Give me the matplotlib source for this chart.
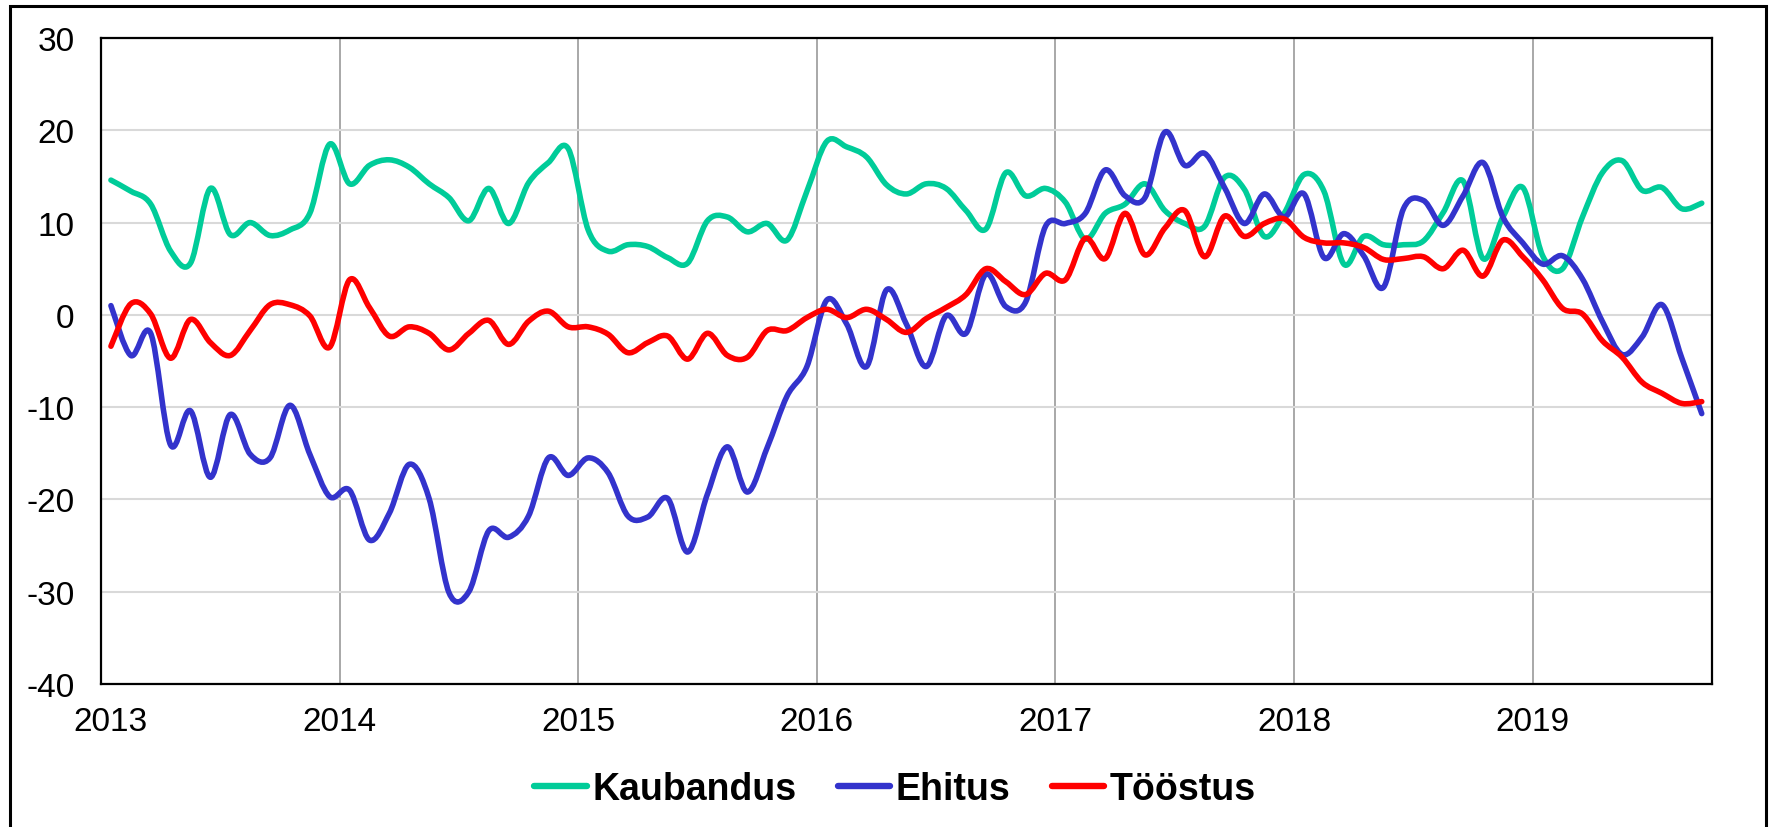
import numpy as np
import pandas as pd
import matplotlib
matplotlib.use("Agg")
import matplotlib.pyplot as plt
from matplotlib.path import Path
from matplotlib.patches import PathPatch, Rectangle
from matplotlib.lines import Line2D

plt.rcParams['font.family'] = ['Liberation Sans', 'DejaVu Sans']
plt.rcParams['axes.unicode_minus'] = False

# Monthly survey balances, Jan 2013 .. Sep 2019
months = pd.date_range('2013-01-01', '2019-09-01', freq='MS')
years = ['2013', '2014', '2015', '2016', '2017', '2018', '2019']

kaubandus = [14.6, 13.4, 12.0, 6.9, 5.6, 13.7, 8.7, 10.0, 8.6, 9.2, 11.0, 18.5,
             14.2, 16.2, 16.8, 16.0, 14.2, 12.7, 10.2, 13.7, 9.9, 14.3, 16.5, 18.0,
             9.2, 6.9, 7.6, 7.4, 6.2, 5.6, 10.2, 10.6, 9.0, 9.9, 8.1, 13.4,
             18.8, 18.2, 17.1, 14.1, 13.1, 14.2, 13.7, 11.3, 9.3, 15.4, 12.9, 13.7,
             12.2, 8.2, 11.0, 12.0, 14.2, 11.3, 9.9, 9.6, 14.9, 13.6, 8.5, 11.0,
             15.2, 13.4, 5.5, 8.5, 7.6, 7.6, 8.0, 11.1, 14.5, 6.1, 10.6, 13.8,
             6.4, 5.0, 10.6, 15.4, 16.7, 13.5, 13.8, 11.5, 12.1]

ehitus = [1.0, -4.4, -2.0, -14.1, -10.4, -17.6, -10.8, -15.1, -15.5, -9.8, -15.1, -19.7,
          -19.0, -24.4, -21.5, -16.2, -19.9, -30.1, -30.0, -23.4, -24.1, -21.8, -15.5, -17.4,
          -15.5, -17.1, -21.8, -21.9, -19.9, -25.7, -19.4, -14.3, -19.2, -14.4, -8.8, -5.6,
          1.6, -1.0, -5.6, 2.7, -1.0, -5.6, -0.1, -2.0, 4.4, 0.9, 1.4, 9.6,
          9.9, 11.0, 15.7, 12.9, 12.7, 19.8, 16.2, 17.5, 13.8, 9.9, 13.1, 10.6,
          13.1, 6.2, 8.8, 6.4, 3.0, 11.5, 12.4, 9.7, 12.9, 16.5, 10.6, 7.8,
          5.5, 6.4, 3.9, -0.7, -4.3, -2.4, 1.1, -4.7, -10.7]

toostus = [-3.4, 1.2, 0.1, -4.7, -0.5, -3.0, -4.4, -1.7, 1.1, 1.1, -0.1, -3.5,
           3.8, 0.8, -2.3, -1.3, -2.0, -3.8, -2.0, -0.6, -3.2, -0.7, 0.4, -1.3,
           -1.3, -2.1, -4.1, -3.0, -2.3, -4.8, -2.0, -4.4, -4.6, -1.7, -1.7, -0.3,
           0.6, -0.3, 0.6, -0.5, -1.9, -0.4, 0.8, 2.2, 5.0, 3.6, 2.2, 4.5,
           3.8, 8.3, 6.1, 11.0, 6.5, 9.4, 11.3, 6.3, 10.7, 8.5, 9.9, 10.4,
           8.4, 7.8, 7.8, 7.3, 6.0, 6.1, 6.3, 5.0, 7.0, 4.2, 8.1, 6.3,
           3.8, 0.7, 0.1, -2.8, -4.6, -7.3, -8.5, -9.6, -9.4]

series = [('Kaubandus', kaubandus, '#00cc99'),
          ('Ehitus', ehitus, '#3333cc'),
          ('Tööstus', toostus, '#ff0000')]

# x position = months since Jan 2013, points sit mid-month
x = np.array([(d.year - 2013) * 12 + d.month - 1 + 0.5 for d in months])


def smooth_path(xs, ys):
    # Bezier segments like a spreadsheet "smoothed line"
    xs = np.asarray(xs, float)
    ys = np.asarray(ys, float)
    n = len(xs)
    verts = [(xs[0], ys[0])]
    codes = [Path.MOVETO]
    for i in range(n - 1):
        a = i - 1 if i > 0 else i
        b = i + 2 if i + 2 < n else i + 1
        c1 = (xs[i] + (xs[i + 1] - xs[a]) / 6, ys[i] + (ys[i + 1] - ys[a]) / 6)
        c2 = (xs[i + 1] - (xs[b] - xs[i]) / 6, ys[i + 1] - (ys[b] - ys[i]) / 6)
        verts += [c1, c2, (xs[i + 1], ys[i + 1])]
        codes += [Path.CURVE4] * 3
    return Path(verts, codes)


fig = plt.figure(figsize=(17.7, 8.28), dpi=100)
ax = fig.add_axes([0.05706, 0.17271, 0.91, 0.78019])

handles = []
for name, vals, col in series:
    ax.add_patch(PathPatch(smooth_path(x, vals), fill=False, edgecolor=col,
                           lw=4.0, capstyle='round', joinstyle='round', zorder=3))
    handles.append(Line2D([], [], color=col, lw=4.6, solid_capstyle='round'))

ax.set_xlim(0, 81)
ax.set_ylim(-40, 30)
ax.set_yticks(range(-40, 31, 10))
# year labels (first one nudged in, as in the original), gridlines on minor ticks
ax.xaxis.remove_overlapping_locs = False
ax.set_xticks([0.45] + list(range(12, 73, 12)))
ax.set_xticklabels(years)
ax.set_xticks(range(12, 73, 12), minor=True)
ax.tick_params(axis='both', which='both', length=0, labelsize=24)
ax.tick_params(axis='x', pad=16)
ax.tick_params(axis='y', pad=19)

ax.set_axisbelow(True)
ax.yaxis.grid(True, color='#d9d9d9', lw=1.5)
ax.xaxis.grid(True, which='minor', color='#999999', lw=1.2)
ax.xaxis.grid(False, which='major')
for sp in ax.spines.values():
    sp.set_color('black')
    sp.set_linewidth(1.6)

fig.legend(handles, [s[0] for s in series], loc='center',
           bbox_to_anchor=(895 / 1770, 1 - 790 / 828), ncol=3, frameon=False,
           handlelength=1.4, handletextpad=0.15, columnspacing=1.1, borderpad=0,
           prop={'weight': 'bold', 'size': 27})

# outer chart border
fig.add_artist(Rectangle((10 / 1770, -0.02), 1756 / 1770, 0.99118 + 0.02,
                         transform=fig.transFigure, fill=False,
                         edgecolor='black', lw=2.2, clip_on=False))

fig.savefig('out.png', dpi=100)
